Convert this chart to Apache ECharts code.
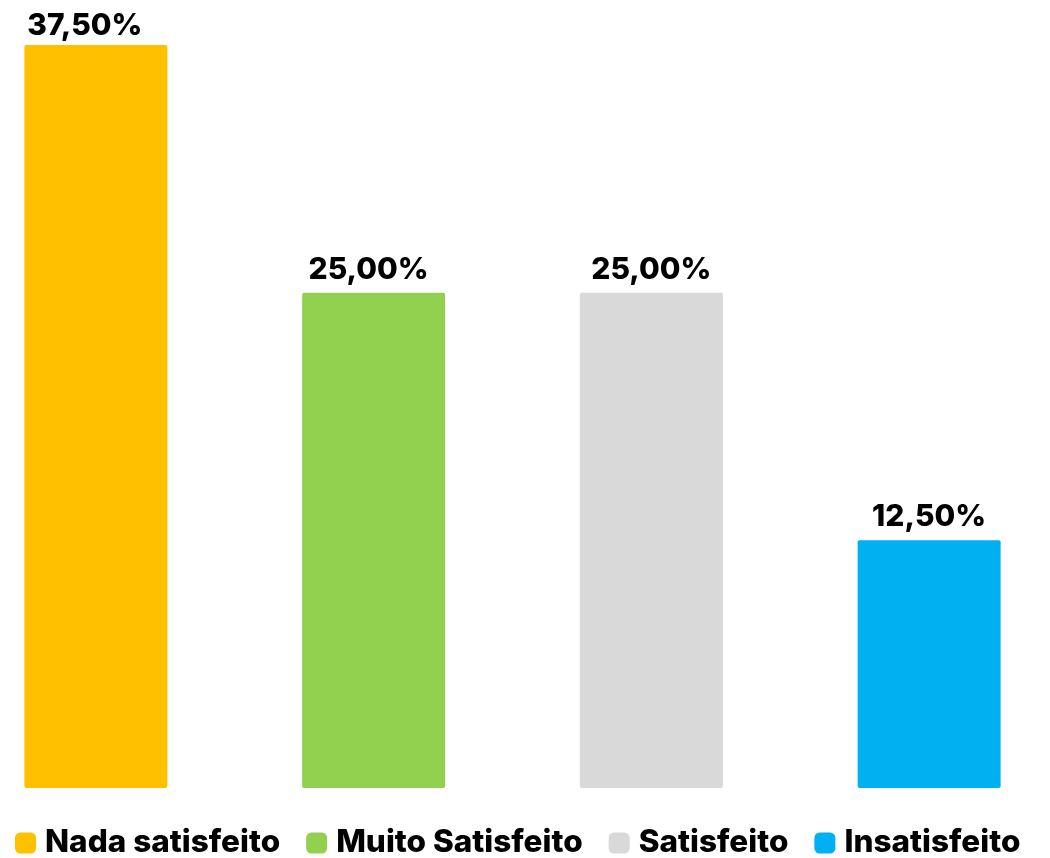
<!DOCTYPE html>
<html>
<head>
<meta charset="utf-8">
<script src="https://cdn.jsdelivr.net/npm/echarts@6/dist/echarts.min.js"></script>
<style>html,body{margin:0;padding:0;background:#fff;overflow:hidden}#wrap{position:relative;width:1050px;height:858px;overflow:hidden}#c{position:absolute;left:-43px;top:0;width:1111px;height:858px}</style>
</head>
<body>
<div id="wrap"><div id="c"></div></div>
<script>
const categories = ['Nada satisfeito', 'Muito Satisfeito', 'Satisfeito', 'Insatisfeito'];
const values = [37.5, 25.0, 25.0, 12.5];
const colors = ['#FFC000', '#92D050', '#D9D9D9', '#00B0F0'];

const chart = echarts.init(document.getElementById('c'));
const series = categories.map((name, i) => ({
  name: name,
  type: 'bar',
  stack: 'all',
  barWidth: 143,
  data: categories.map((c, j) => j === i ? values[i] : '-'),
  itemStyle: { color: colors[i], borderRadius: 2 },
  label: {
    show: true,
    position: 'top',
    distance: 8,
    offset: i === 0 ? [-11, 4] : (i === 1 ? [-5, 0] : [0, 0]),
    fontFamily: 'Inter',
    fontWeight: 800,
    fontSize: 30,
    color: '#000',
    formatter: p => p.value.toFixed(2).replace('.', ',') + '%'
  }
}));

chart.setOption({
  animation: false,
  grid: { left: 0, right: 0, top: 45, bottom: 70, containLabel: false },
  xAxis: { type: 'category', data: categories, show: false },
  yAxis: { type: 'value', min: 0, max: 37.5, show: false },
  legend: {
    data: categories,
    left: 58,
    top: 827,
    padding: 0,
    itemWidth: 21,
    itemHeight: 21,
    itemGap: 26,
    icon: 'roundRect',
    textStyle: { fontFamily: 'Inter', fontWeight: 800, fontSize: 31.5, color: '#000', padding: [0, 0, 0, 4] }
  },
  series: series
});
</script>
</body>
</html>
